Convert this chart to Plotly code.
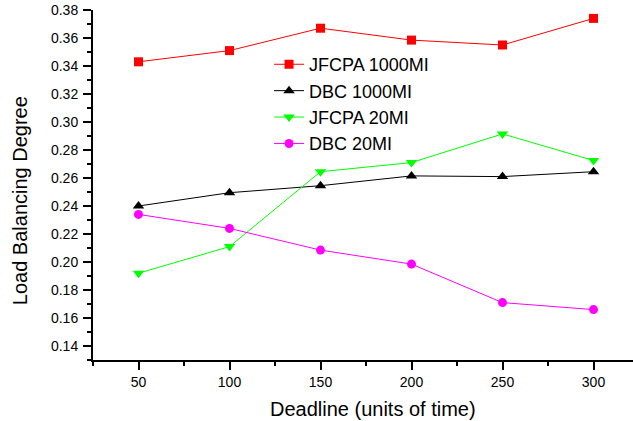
import plotly.graph_objects as go

deadlines = [50, 100, 150, 200, 250, 300]
jfcpa_1000 = [0.343, 0.351, 0.367, 0.3585, 0.355, 0.374]
dbc_1000 = [0.240, 0.2495, 0.2545, 0.2615, 0.261, 0.2645]
jfcpa_20 = [0.192, 0.211, 0.2645, 0.271, 0.2915, 0.2725]
dbc_20 = [0.234, 0.224, 0.2085, 0.1985, 0.171, 0.166]

series = [
    ("JFCPA 1000MI", jfcpa_1000, "#FF0000", "square", 9),
    ("DBC 1000MI", dbc_1000, "#000000", "triangle-up", 10),
    ("JFCPA 20MI", jfcpa_20, "#00FF00", "triangle-down", 10),
    ("DBC 20MI", dbc_20, "#FF00FF", "circle", 9),
]

fig = go.Figure()
for name, vals, color, sym, sz in series:
    fig.add_trace(go.Scatter(
        x=deadlines, y=vals, name=name, mode="lines+markers",
        line=dict(color=color, width=1),
        marker=dict(symbol=sym, size=sz, color=color),
    ))

font = "Arial, Liberation Sans, sans-serif"
fig.update_layout(
    width=633, height=421,
    margin=dict(l=93, r=0, t=10, b=61),
    paper_bgcolor="white", plot_bgcolor="white",
    font=dict(family=font, color="black", size=14),
    showlegend=True,
    legend=dict(x=0.326, y=0.897, xanchor="left", yanchor="top",
                font=dict(size=18), bgcolor="rgba(0,0,0,0)",
                tracegroupgap=0, itemwidth=30),
    annotations=[
        dict(text="Load Balancing Degree", textangle=-90,
             xref="paper", yref="paper", x=-0.135, y=0.454,
             xanchor="center", yanchor="middle", showarrow=False,
             font=dict(size=20)),
        dict(text="Deadline (units of time)",
             xref="paper", yref="paper", x=0.519, y=-0.1414,
             xanchor="center", yanchor="middle", showarrow=False,
             font=dict(size=20)),
    ],
)
fig.update_xaxes(
    range=[25, 321.7], tick0=50, dtick=50,
    showline=True, linecolor="black", linewidth=2,
    ticks="outside", ticklen=8, tickwidth=2, tickcolor="black",
    minor=dict(ticks="outside", ticklen=4, tickwidth=2, dtick=25, tick0=25, tickcolor="black"),
    showgrid=False, zeroline=False,
    tickfont=dict(size=14),
)
fig.update_yaxes(
    range=[0.13, 0.38], tick0=0.14, dtick=0.02, tickformat=".2f",
    showline=True, linecolor="black", linewidth=2,
    ticks="outside", ticklen=8, tickwidth=2, tickcolor="black",
    minor=dict(ticks="outside", ticklen=4, tickwidth=2, dtick=0.01, tickcolor="black"),
    showgrid=False, zeroline=False, ticklabelstandoff=2,
    tickfont=dict(size=14),
)
fig.write_html("out.html")
